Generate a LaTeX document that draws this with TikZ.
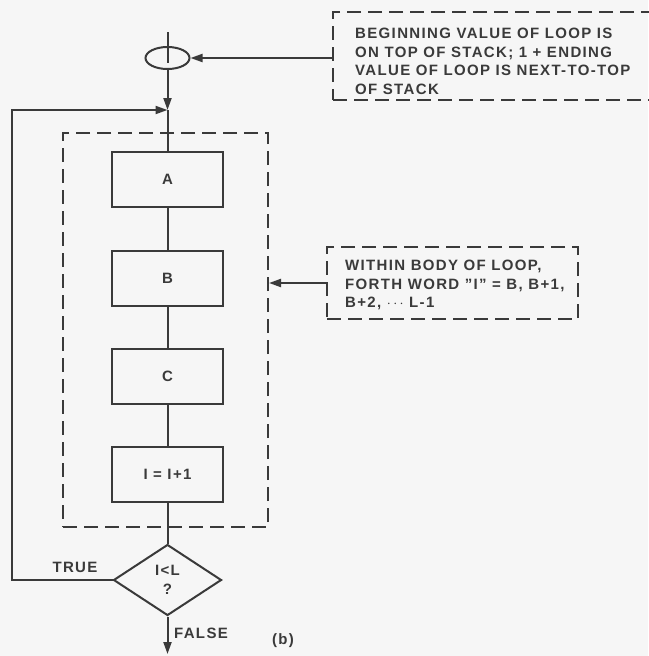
\documentclass[tikz,border=0pt]{standalone}
\usepackage{fontspec}
\setmainfont{Liberation Sans}[LetterSpace=9]
\usetikzlibrary{shapes.geometric,arrows.meta}
\definecolor{ink}{HTML}{3A3A3A}
\definecolor{paper}{HTML}{F6F6F6}
\tikzset{
  every node/.style={text=ink, font=\bfseries\fontsize{15}{18.5}\selectfont},
  ln/.style={draw=ink, line width=2pt},
  arr/.style={ln, -{Triangle[length=12pt,width=8pt]}},
  stepbox/.style={ln, rectangle, minimum width=111pt, minimum height=55pt, inner sep=0pt},
  dbox/.style={draw=ink, line width=2pt, dash pattern=on 14pt off 7pt, rectangle, inner sep=0pt},
  lbl/.style={inner sep=0pt}
}
\begin{document}
\begin{tikzpicture}[x=1pt,y=-1pt]
\fill[paper] (0,0) rectangle (648,656);
\useasboundingbox (0,0) rectangle (648,656);

% notes
\node[dbox, minimum width=327pt, minimum height=88pt] (note1) at (496.5,56) {};
\node[lbl, anchor=north west, align=left] (t1) at (355,28)
  {BEGINNING VALUE OF LOOP IS\\ON TOP OF STACK; 1 + ENDING\\VALUE OF LOOP IS NEXT-TO-TOP\\OF STACK};
\node[dbox, minimum width=251pt, minimum height=72pt] (note2) at (452.5,283) {};
\node[lbl, anchor=north west, align=left] (t2) at (345,260)
  {WITHIN BODY OF LOOP,\\FORTH WORD \symbol{34}I\symbol{34} = B, B+1,\\B+2, $\cdots$ L-1};

% loop start
\coordinate (top) at (167.5,32);
\coordinate (inner) at (167.5,63);
\node[ln, ellipse, minimum width=44pt, minimum height=22pt, inner sep=0pt] (loop) at (167.5,58) {};
\coordinate (j) at (167.5,110);

% body
\node[dbox, minimum width=205pt, minimum height=394pt] (body) at (165.5,330) {};
\node[stepbox] (A) at (167.5,179.5) {A};
\node[stepbox] (B) at (167.5,278) {B};
\node[stepbox] (C) at (167.5,376) {C};
\node[stepbox] (D) at (167.5,474) {I = I+1};

% decision
\node[ln, diamond, minimum width=108pt, minimum height=71pt, inner sep=0pt, align=center] (dec) at (167.5,580) {\raisebox{-3pt}{I<L}\\\raisebox{-3pt}{?}};
\coordinate (lt) at (12,110);
\coordinate (out) at (167.5,654);

% connectors
\draw[ln] (top) -- (inner);
\draw[arr] (loop.south) -- (j);
\draw[ln] (j) -- (A.north);
\draw[ln] (A) -- (B);
\draw[ln] (B) -- (C);
\draw[ln] (C) -- (D);
\draw[ln] (D) -- (dec);
\draw[arr] (dec.west) -- (dec.west -| lt) -- (lt) -- (j);
\draw[arr] (dec.south) -- (out);
\draw[arr] (note1.west |- loop.east) -- (loop.east);
\draw[arr] (note2.west) -- (note2.west -| body.east);

% labels
\node[lbl] (true) at (75,567) {TRUE};
\node[lbl] (false) at (201,633) {FALSE};
\node[lbl] (b) at (283,641) {(b)};
\end{tikzpicture}
\end{document}
